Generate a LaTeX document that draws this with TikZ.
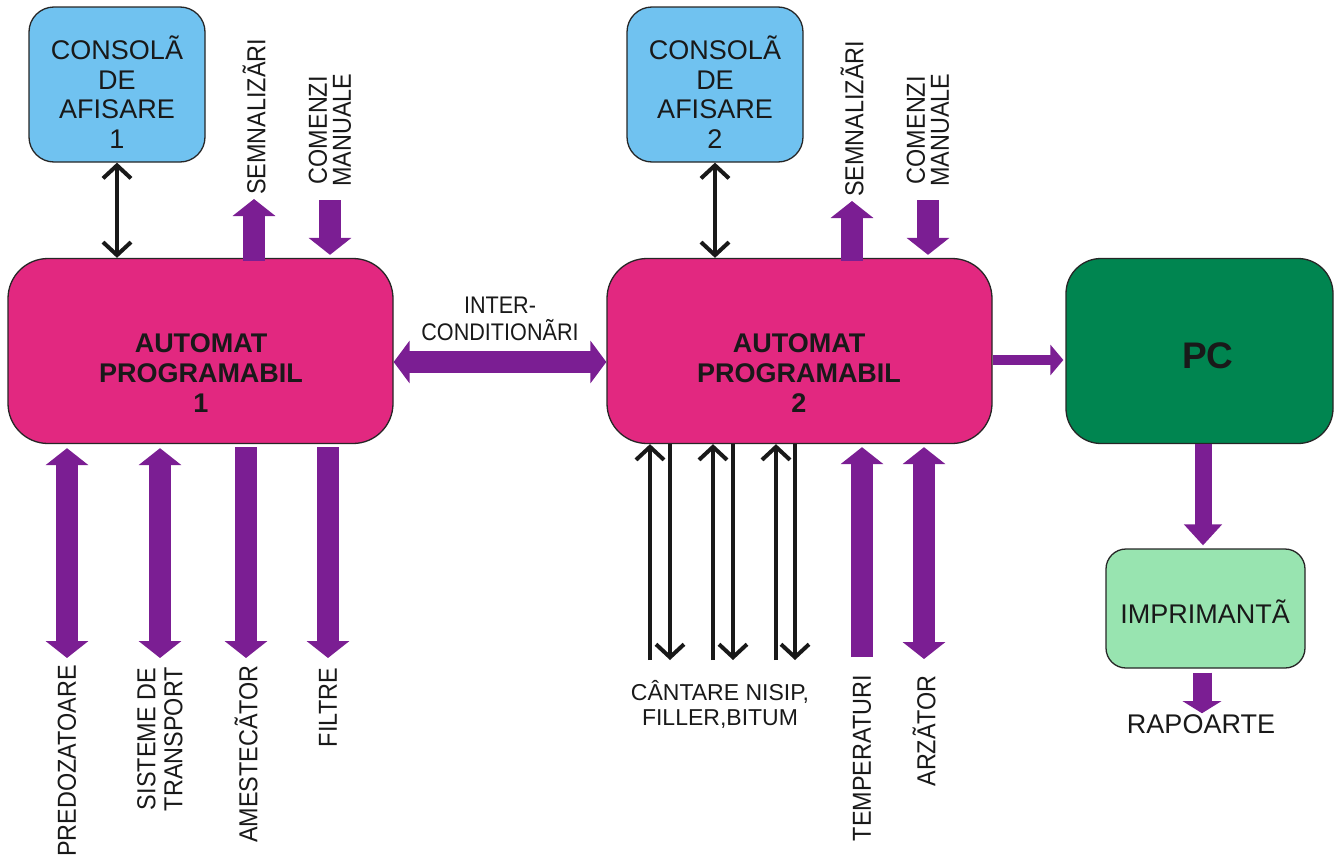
\documentclass[tikz,border=0pt]{standalone}
\usepackage{fontspec}
\setmainfont{Liberation Sans}
\newfontfamily\narrowfont{Liberation Sans}[FakeStretch=0.9]
\usetikzlibrary{arrows.meta}
\definecolor{cblue}{RGB}{112,194,240}
\definecolor{cmag}{RGB}{226,40,128}
\definecolor{cpurp}{RGB}{123,30,147}
\definecolor{cpc}{RGB}{0,133,80}
\definecolor{cprn}{RGB}{152,228,176}
\begin{document}
\begin{tikzpicture}[x=1pt,y=-1pt,
  box/.style={draw=black!85,line width=1.3pt,inner sep=0pt},
  console/.style={box,fill=cblue,rounded corners=25pt,minimum width=176pt,minimum height=155pt},
  apbox/.style={box,fill=cmag,rounded corners=40pt,minimum width=385pt,minimum height=185pt},
  pcbox/.style={box,fill=cpc,rounded corners=35pt,minimum width=267pt,minimum height=185pt},
  prnbox/.style={box,fill=cprn,rounded corners=20pt,minimum width=199pt,minimum height=119pt},
  ctext/.style={align=center,inner sep=0pt,text=black!90,font=\fontsize{27}{29.5}\selectfont},
  aptext/.style={align=center,inner sep=0pt,text=black!90,font=\fontsize{27}{30}\selectfont\bfseries},
  vlab/.style={rotate=90,inner sep=0pt,align=center,text=black!90,font=\narrowfont\fontsize{26}{24}\selectfont},
  hlab/.style={inner sep=0pt,align=center,text=black!90,font=\fontsize{23}{25}\selectfont},
  thin/.style={line width=4pt,draw=black!90},
  barb/.style={thin,arrows={-Straight Barb[length=13pt,width=28pt]}},
  dbarb/.style={thin,arrows={Straight Barb[length=13pt,width=28pt]-Straight Barb[length=13pt,width=28pt]}},
  fat/.style={draw=cpurp,line width=22pt,arrows={-Triangle[length=17pt,width=42pt]}},
  dfat/.style={draw=cpurp,line width=22pt,arrows={Triangle[length=17pt,width=42pt]-Triangle[length=17pt,width=42pt]}}
]
\useasboundingbox (0,0) rectangle (1334,862);

% boxes
\node[console] (con1) at (117,84.5) {};
\node[ctext] at (117,92) {CONSOLÃ\\DE\\AFISARE\\1};
\node[console] (con2) at (715,84.5) {};
\node[ctext] at (715,92) {CONSOLÃ\\DE\\AFISARE\\2};
\node[apbox] (ap1) at (200.5,351) {};
\node[aptext] at (201,373) {AUTOMAT\\PROGRAMABIL\\1};
\node[apbox] (ap2) at (799.5,351) {};
\node[aptext] at (799,373) {AUTOMAT\\PROGRAMABIL\\2};
\node[pcbox] (pc) at (1199.5,351) {};
\node[inner sep=0pt,text=black!90,font=\fontsize{37}{40}\selectfont\bfseries] at (1208,356) {PC};
\node[prnbox] (prn) at (1205.5,608.5) {};
\node[ctext] at (1205,612) {IMPRIMANTÃ};
\node[ctext] (rap) at (1201,724) {RAPOARTE};

% top labels
\node[vlab,anchor=west] (sem1) at (254,195) {SEMNALIZÃRI};
\node[vlab,anchor=west] (com1) at (330,187) {COMENZI\\MANUALE};
\node[vlab,anchor=west] (sem2) at (852,197) {SEMNALIZÃRI};
\node[vlab,anchor=west] (com2) at (928,187) {COMENZI\\MANUALE};

% bottom labels AP1
\node[vlab,anchor=east] (pre) at (67,665) {PREDOZATOARE};
\node[vlab,anchor=east,font=\narrowfont\fontsize{26}{27}\selectfont] (sis) at (160,667) {SISTEME DE\\TRANSPORT};
\node[vlab,anchor=east] (ame) at (246,665) {AMESTECÃTOR};
\node[vlab,anchor=east] (fil) at (328,668) {FILTRE};

% bottom labels AP2
\node[hlab] (can) at (720,704) {CÂNTARE NISIP,\\FILLER,BITUM};
\node[vlab,anchor=east] (tem) at (862,675) {TEMPERATURI};
\node[vlab,anchor=east] (arz) at (924,675) {ARZÃTOR};

% interconditionari label
\node[align=center,inner sep=0pt,text=black!90,font=\narrowfont\fontsize{24}{27}\selectfont] (ic) at (500,319) {INTER-\\CONDITIONÃRI};
\coordinate (icy) at (500,362);
\coordinate (pcy) at (1000,360);

% console arrows
\draw[dbarb] (con1.south) -- (ap1.north -| con1.south);
\draw[dbarb] (con2.south) -- (ap2.north -| con2.south);

% top purple arrows
\draw[fat,shorten >=4pt] ([yshift=-3pt]ap1.north -| sem1) -- (sem1.west);
\draw[fat,shorten <=13pt,shorten >=3pt] (com1.west) -- (ap1.north -| com1);
\draw[fat,shorten >=4pt] ([yshift=-3pt]ap2.north -| sem2) -- (sem2.west);
\draw[fat,shorten <=13pt,shorten >=3pt] (com2.west) -- (ap2.north -| com2);

% intercondition arrow
\draw[dfat,arrows={Triangle[length=16pt,width=42pt]-Triangle[length=16pt,width=42pt]}] (ap1.east |- icy) -- (ap2.west |- icy);

% AP1 bottom
\draw[dfat,shorten <=4pt,shorten >=7pt] (ap1.south -| pre) -- (pre.east);
\draw[dfat,shorten <=4pt,shorten >=9pt] (ap1.south -| sis) -- (sis.east);
\draw[fat,shorten <=3pt,shorten >=7pt] (ap1.south -| ame) -- (ame.east);
\draw[fat,shorten <=3pt,shorten >=10pt] (ap1.south -| fil) -- (fil.east);

% AP2 bottom black arrows
\coordinate (b1) at (650,660);
\coordinate (b2) at (670,660);
\coordinate (b3) at (713,660);
\coordinate (b4) at (733,660);
\coordinate (b5) at (776,660);
\coordinate (b6) at (795,660);
\draw[barb] (b1) -- (ap2.south -| b1);
\draw[barb] (ap2.south -| b2) -- (b2);
\draw[barb] (b3) -- (ap2.south -| b3);
\draw[barb] (ap2.south -| b4) -- (b4);
\draw[barb] (b5) -- (ap2.south -| b5);
\draw[barb] (ap2.south -| b6) -- (b6);

% AP2 bottom purple
\draw[fat,shorten <=18pt,shorten >=3pt] (tem.east) -- (ap2.south -| tem);
\draw[dfat,shorten <=3pt,shorten >=16pt] (ap2.south -| arz) -- (arz.east);

% PC arrows
\draw[draw=cpurp,line width=10pt,arrows={-Triangle[length=13pt,width=30pt]},shorten >=2pt] (ap2.east |- pcy) -- (pc.west |- pcy);
\draw[draw=cpurp,line width=17pt,arrows={-Triangle[length=21pt,width=37pt]},shorten >=3pt] (pc.south -| 1203,0) -- (prn.north -| 1203,0);
\draw[draw=cpurp,line width=19pt,arrows={-Triangle[length=12pt,width=38pt]},shorten <=4pt,shorten >=1pt] (prn.south -| 1202,0) -- (rap.north -| 1202,0);
\end{tikzpicture}
\end{document}
